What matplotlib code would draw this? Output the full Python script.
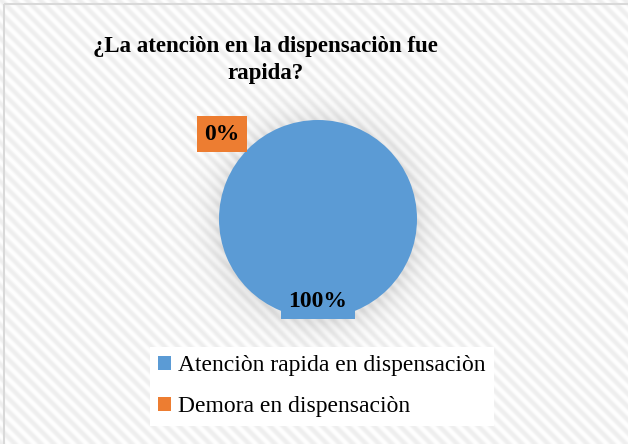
import numpy as np
import matplotlib
matplotlib.use("Agg")
import matplotlib.pyplot as plt
from matplotlib.patches import Rectangle

# survey answers
categories = ["Atenciòn rapida en dispensaciòn", "Demora en dispensaciòn"]
values = [100, 0]
colors = ["#5B9BD5", "#ED7D31"]
title = "¿La atenciòn en la dispensaciòn fue\nrapida?"

W, H = 628, 444
plt.rcParams["font.family"] = ["Liberation Serif", "DejaVu Serif"]

fig = plt.figure(figsize=(W / 100, H / 100), dpi=100)

# striped background with a soft shadow under the pie
yy, xx = np.mgrid[0:H, 0:W]
stripes = 0.5 + 0.5 * np.cos(2 * np.pi * (xx - yy) / 13.0)
shade = 1.0 - 0.07 * stripes
cx, cy, R = 318, 219, 99
dist = np.hypot(xx - cx, yy - (cy + 3)) - R
glow = 0.09 * np.exp(-np.clip(dist, 0, None) / 14.0)
shade = shade - glow
bg = fig.add_axes([0, 0, 1, 1], zorder=0)
bg.imshow(shade, cmap="gray", vmin=0, vmax=1, extent=(0, W, H, 0),
          interpolation="bilinear", aspect="auto")
bg.set_xlim(0, W)
bg.set_ylim(H, 0)
bg.axis("off")
bg.add_patch(Rectangle((4, 4), W + 10, H + 10, fill=False,
                       ec="#d9d9d9", lw=1.5))

# pie
ax = fig.add_axes([(cx - R) / W, 1 - (cy + R) / H, 2 * R / W, 2 * R / H], zorder=2)
wedges, _ = ax.pie(values, colors=colors, startangle=90, counterclock=False,
                   radius=1.0)
ax.set_xlim(-1, 1)
ax.set_ylim(-1, 1)
ax.set_aspect("auto")
ax.axis("off")

total = sum(values)
pcts = [f"{v / total * 100:.0f}%" for v in values]
ax.text(0.0, -0.83, pcts[0], ha="center", va="center", fontsize=17,
        fontweight="bold",
        bbox=dict(boxstyle="square,pad=0.3", fc=colors[0], ec="none"))
fig.text(222 / W, 1 - 134 / H, pcts[1], ha="center", va="center",
         fontsize=17, fontweight="bold", zorder=3,
         bbox=dict(boxstyle="square,pad=0.3", fc=colors[1], ec="none"))

fig.text(265 / W, 1 - 60 / H, title, ha="center", va="center",
         fontsize=16.5, fontweight="bold", linespacing=1.35)

leg = fig.legend(wedges, categories, loc="upper left",
                 bbox_to_anchor=(150 / W, 1 - 347 / H), frameon=True,
                 fancybox=False, framealpha=1, facecolor="white",
                 edgecolor="none", fontsize=17, handlelength=0.55,
                 handleheight=0.55, handletextpad=0.3, labelspacing=0.85,
                 borderpad=0.35, borderaxespad=0)
leg.set_zorder(3)

fig.savefig("out.png", dpi=100)
